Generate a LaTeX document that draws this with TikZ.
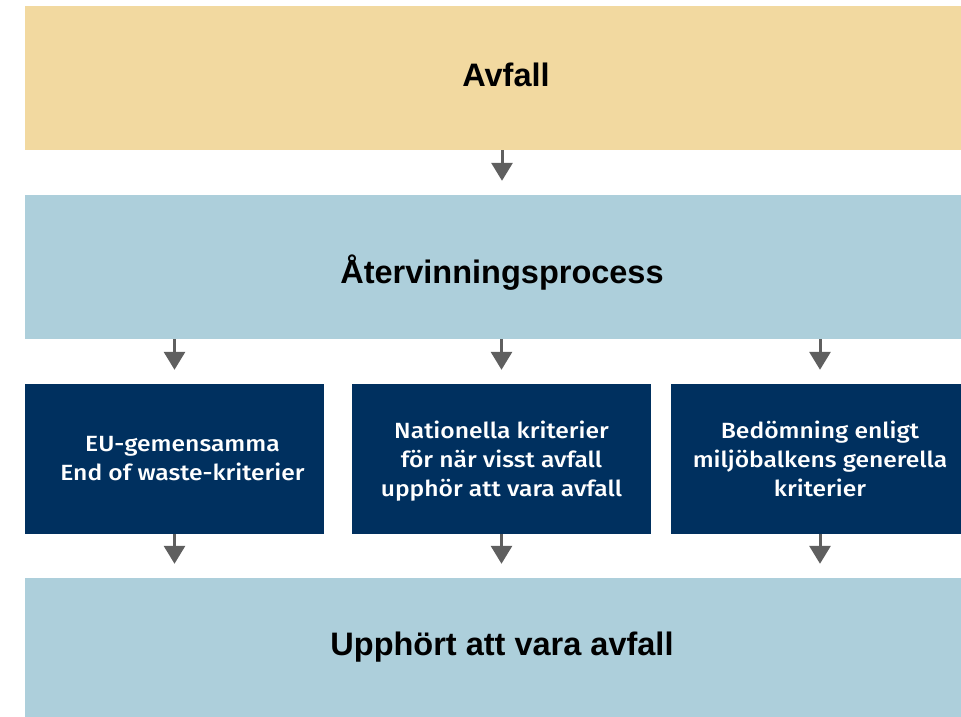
\documentclass[tikz,border=0pt]{standalone}
\usepackage{fontspec}
\setmainfont{Liberation Sans}
\newfontfamily\boxfont{Fira Sans Medium}[FakeStretch=1.12]
\usepackage{tikz}
\usetikzlibrary{arrows.meta}

\definecolor{avfallgul}{HTML}{F2D9A0}
\definecolor{processbla}{HTML}{ADCFDB}
\definecolor{kriteriebla}{HTML}{00305F}
\definecolor{pilgra}{HTML}{5F5F5F}

\tikzset{
  band/.style={minimum width=954pt, minimum height=144pt, inner sep=0pt, font=\fontsize{32.5}{32.5}\selectfont\bfseries},
  kriterie/.style={fill=kriteriebla, text=white, minimum width=299pt, minimum height=150pt, inner sep=0pt, align=center, font=\boxfont\fontsize{22}{29}\selectfont},
  flow/.style={draw=pilgra, line width=3pt, -{Triangle[width=21pt,length=18pt]}, shorten >=14pt}
}

\begin{document}
\begin{tikzpicture}[x=1pt,y=-1pt]
\useasboundingbox (0,0) rectangle (961,717);
\clip (0,0) rectangle (961,717);
\node[band, fill=avfallgul, text height=23.7pt, text depth=6pt] (Avfall) at (502,78) {\hspace*{8pt}Avfall};
\node[band, fill=processbla, text height=32pt, text depth=0pt] (Process) at (502,267) {Återvinningsprocess};
\node[kriterie] (EU) at (174.5,459) {\hspace*{16pt}EU-gemensamma\\\hspace*{16pt}End of waste-kriterier};
\node[kriterie] (Nat) at (501.5,459) {\rule{0pt}{22pt}Nationella kriterier\\för när visst avfall\\upphör att vara avfall};
\node[kriterie] (Bed) at (820,459) {Bedömning enligt\\miljöbalkens generella\\kriterier};
\node[band, fill=processbla, text height=23.7pt, text depth=12.8pt] (Upphort) at (502,650) {Upphört att vara avfall};
\draw[flow] (Avfall) -- (Process);
\foreach \k in {EU,Nat,Bed}{
  \draw[flow] (\k.north |- Process.south) -- (\k.north);
  \draw[flow] (\k.south) -- (\k.south |- Upphort.north);
}
\end{tikzpicture}
\end{document}
